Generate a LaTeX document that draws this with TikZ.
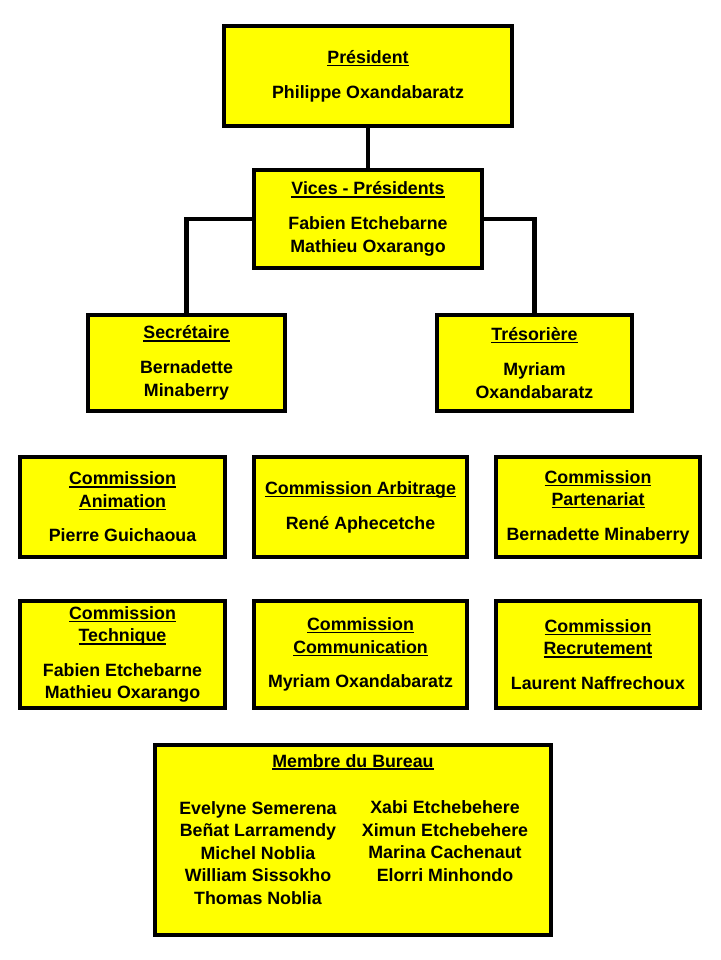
\documentclass[tikz,border=0pt]{standalone}
\usepackage{fontspec}
\setmainfont{Liberation Sans}
\definecolor{boxyellow}{RGB}{255,255,0}
\newcommand\titul[1]{\setbox0\hbox{#1}\rlap{\rule[-2.8pt]{\wd0}{1.4pt}}\box0}
\tikzset{
  box/.style={draw=black, line width=3.5pt, fill=boxyellow, inner sep=0pt, align=center,
    font=\bfseries\fontsize{17.8}{22.5}\selectfont},
  txt/.style={inner sep=0pt, align=center, font=\bfseries\fontsize{17.8}{22.5}\selectfont},
  link/.style={draw=black, line width=4.4pt}
}
\begin{document}
\begin{tikzpicture}[x=1pt,y=-1pt]
\useasboundingbox[fill=white] (0,0) rectangle (720,960);
% top
\node[box, minimum width=288pt, minimum height=100pt] (pres) at (368,76)
  {\titul{Président}\\[12.5pt]Philippe Oxandabaratz};
\node[box, minimum width=228pt, minimum height=98pt] (vp) at (368,219)
  {\titul{Vices - Présidents}\\[12.5pt]Fabien Etchebarne\\Mathieu Oxarango};
\node[box, minimum width=197pt, minimum height=96pt] (sec) at (186.5,363)
  {\titul{Secrétaire}\\[12.5pt]Bernadette\\Minaberry};
\node[box, minimum width=195pt, minimum height=96pt] (tre) at (534.5,363)
  {\titul{Trésorière}\\[12.5pt]Myriam\\Oxandabaratz};
% commissions row 1
\node[box, minimum width=205pt, minimum height=100pt] (anim) at (122.5,507)
  {\titul{Commission}\\\titul{Animation}\\[12pt]Pierre Guichaoua};
\node[box, minimum width=213pt, minimum height=100pt] (arb) at (360.5,507)
  {\titul{Commission Arbitrage}\\[12.5pt]René Aphecetche};
\node[box, minimum width=204pt, minimum height=100pt] (part) at (598,507)
  {\titul{Commission}\\\titul{Partenariat}\\[12pt]Bernadette Minaberry};
% commissions row 2
\node[box, minimum width=205pt, minimum height=107pt] (tech) at (122.5,654.5)
  {\titul{Commission}\\\titul{Technique}\\[12pt]Fabien Etchebarne\\Mathieu Oxarango};
\node[box, minimum width=213pt, minimum height=107pt] (comm) at (360.5,654.5)
  {\titul{Commission}\\\titul{Communication}\\[12pt]Myriam Oxandabaratz};
\node[box, minimum width=204pt, minimum height=107pt] (recr) at (598,654.5)
  {\titul{Commission}\\\titul{Recrutement}\\[12pt]Laurent Naffrechoux};
% bureau
\node[box, minimum width=396pt, minimum height=190pt] (mb) at (353,840) {};
\node[txt] (mbt) at (353,762) {\titul{Membre du Bureau}};
\node[txt] (mbl) at (258,853) {Evelyne Semerena\\Beñat Larramendy\\Michel Noblia\\William Sissokho\\Thomas Noblia};
\node[txt] (mbr) at (445,841) {Xabi Etchebehere\\Ximun Etchebehere\\Marina Cachenaut\\Elorri Minhondo};
% connectors
\draw[link] (pres.south) -- (vp.north);
\draw[link] (vp.west) -| (sec.north);
\draw[link] (vp.east) -| (tre.north);
\end{tikzpicture}
\end{document}
